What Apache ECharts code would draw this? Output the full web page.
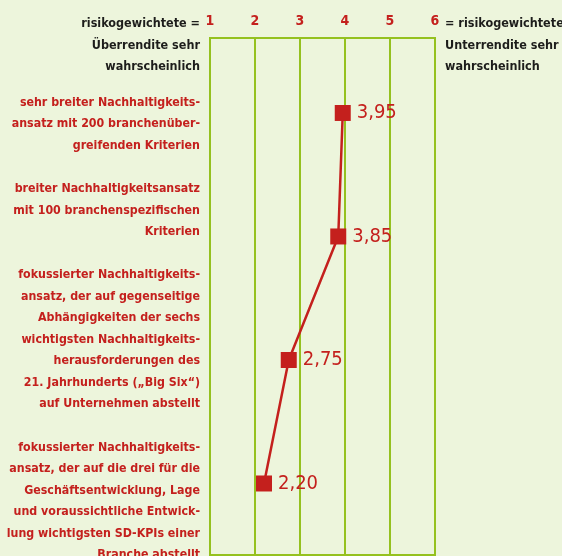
<!DOCTYPE html>
<html>
<head>
<meta charset="utf-8">
<script src="https://cdn.jsdelivr.net/npm/echarts@6/dist/echarts.min.js"></script>
<style>
  html, body { margin: 0; padding: 0; background: #edf5dc; }
  #chart { width: 562px; height: 556px; }
</style>
</head>
<body>
<div id="chart"></div>
<script>
// Ansätze (von oben nach unten)
const categories = [
    'sehr breiter Nachhaltigkeits-\nansatz mit 200 branchenüber-\ngreifenden Kriterien',
    'breiter Nachhaltigkeitsansatz\nmit 100 branchenspezifischen\nKriterien',
    'fokussierter Nachhaltigkeits-\nansatz, der auf gegenseitige\nAbhängigkeiten der sechs\nwichtigsten Nachhaltigkeits-\nherausforderungen des\n21. Jahrhunderts (\u201eBig Six\u201c)\nauf Unternehmen abstellt',
    'fokussierter Nachhaltigkeits-\nansatz, der auf die drei für die\nGeschäftsentwicklung, Lage\nund voraussichtliche Entwick-\nlung wichtigsten SD-KPIs einer\nBranche abstellt'
];
const scores = [3.95, 3.85, 2.75, 2.20];
const scaleTicks = [1, 2, 3, 4, 5, 6];

// vertical nudge of each label block, in blank lines (+ = down, - = up)
const labelNudge = [2, -2, -2, 1];

const red = '#c4201d';
const green = '#95c11f';
const font = '"Liberation Sans Narrow", "DejaVu Sans Condensed", sans-serif';

let chartElem = document.getElementById('chart');
let chart = echarts.init(chartElem);

let points = scores.map((v, i) => [v, i]);

function nudged(text, n) {
    let pad = '\n'.repeat(Math.abs(n));
    return n > 0 ? pad + text : text + pad;
}

chart.setOption({
    backgroundColor: '#edf5dc',
    animation: false,
    grid: {
        left: 210, right: 127, top: 38, bottom: 1,
        outerBoundsMode: 'none',
        containLabel: false,
        show: true,
        borderColor: green,
        borderWidth: 2
    },
    xAxis: {
        type: 'value',
        position: 'top',
        min: scaleTicks[0],
        max: scaleTicks[scaleTicks.length - 1],
        interval: 1,
        axisLine: { show: true, onZero: false, lineStyle: { color: green, width: 2 } },
        axisTick: { show: false },
        axisLabel: {
            color: red, fontFamily: font, fontWeight: 'bold', fontSize: 14, margin: 10
        },
        splitLine: { show: true, lineStyle: { color: green, width: 2 } }
    },
    yAxis: [{
        // position axis for the points
        type: 'value',
        inverse: true,
        min: -0.607,
        max: 3.579,
        axisLine: { show: false },
        axisTick: { show: false },
        splitLine: { show: false },
        axisLabel: { show: false }
    }, {
        // label axis
        type: 'category',
        inverse: true,
        position: 'left',
        data: categories.map((c, i) => nudged(c, labelNudge[i])),
        axisLine: { show: false },
        axisTick: { show: false },
        splitLine: { show: false },
        axisLabel: {
            interval: 0,
            color: red, fontFamily: font, fontWeight: 'bold', fontSize: 12.3,
            lineHeight: 21.5, align: 'right', margin: 10
        }
    }],
    series: [{
        type: 'line',
        yAxisIndex: 0,
        data: points,
        symbol: 'rect',
        symbolSize: 16,
        lineStyle: { color: red, width: 2.5 },
        itemStyle: { color: red },
        label: {
            show: true,
            position: 'right',
            distance: 6,
            color: red,
            fontFamily: font,
            fontSize: 20,
            formatter: p => p.value[0].toFixed(2).replace('.', ',')
        }
    }],
    graphic: [
        { type: 'text', x: 200, y: 13, style: { text: 'risikogewichtete =\nÜberrendite sehr\nwahrscheinlich', align: 'right', fill: '#1d1d1b', font: 'bold 12.5px ' + font, lineHeight: 21.5 } },
        { type: 'text', x: 445, y: 13, style: { text: '= risikogewichtete\nUnterrendite sehr\nwahrscheinlich', align: 'left', fill: '#1d1d1b', font: 'bold 12.5px ' + font, lineHeight: 21.5 } }
    ]
});

window.addEventListener('resize', function () {
    setTimeout(() => { chart.resize(); }, 500);
});
</script>
</body>
</html>
